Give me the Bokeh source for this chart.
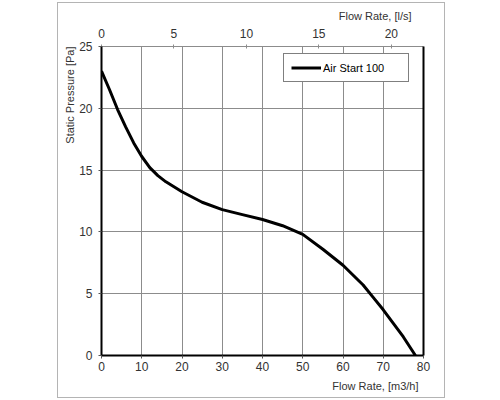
from bokeh.plotting import figure
from bokeh.models import (Range1d, LinearAxis, FixedTicker, Legend,
                          LegendItem, Title)
from bokeh.embed import file_html
from bokeh.resources import INLINE

# fan curve
flow_m3h = [0, 2, 4, 6, 8, 10, 12, 14, 16, 20, 25, 30, 35, 40, 45, 50,
            55, 60, 65, 67.5, 70, 72.5, 75, 78]
pressure_pa = [23.0, 21.5, 19.9, 18.5, 17.2, 16.1, 15.2, 14.55, 14.05, 13.25,
               12.4, 11.8, 11.4, 11.0, 10.5, 9.8, 8.6, 7.3, 5.7, 4.7, 3.7,
               2.6, 1.5, 0.0]

x_ticks = [0, 10, 20, 30, 40, 50, 60, 70, 80]
y_ticks = [0, 5, 10, 15, 20, 25]
ls_ticks = [0, 5, 10, 15, 20]
series_name = "Air Start 100"

FONT = "Liberation Sans"
TXT = "#333333"
GRID = "#8c8c8c"

p = figure(width=386, height=394, output_backend="svg", toolbar_location=None,
           x_range=Range1d(0, 80), y_range=Range1d(0, 25),
           min_border_left=43, min_border_right=21,
           min_border_top=42, min_border_bottom=42,
           styles={"margin-left": "58px", "margin-top": "3px",
                   "outline": "1px solid #b4b4b4"})
p.outline_line_color = None
p.title.visible = False

# secondary flow scale in l/s
p.extra_x_ranges = {"ls": Range1d(0, 80 / 3.6)}
top = LinearAxis(x_range_name="ls", ticker=FixedTicker(ticks=ls_ticks))
p.add_layout(top, "above")
right = LinearAxis(ticker=FixedTicker(ticks=[]))
p.add_layout(right, "right")

bottom = p.below[0]
left = p.left[0]
bottom.ticker = FixedTicker(ticks=x_ticks)
left.ticker = FixedTicker(ticks=y_ticks)

for ax in p.axis:
    ax.major_label_text_font = FONT
    ax.major_label_text_font_size = "12px"
    ax.major_label_text_color = TXT
    ax.minor_tick_line_color = None
    ax.major_tick_in = 0
    ax.major_tick_out = 3
    ax.major_tick_line_color = "#555555"
    ax.axis_line_color = "black"
    ax.axis_line_width = 2

bottom.major_label_standoff = 3
left.major_label_standoff = 6
top.axis_line_color = GRID
top.axis_line_width = 1
top.major_tick_in = 2
top.major_tick_out = 2
top.major_label_standoff = 7
top.major_tick_line_color = GRID
right.major_label_text_font_size = "0px"
right.major_tick_line_color = None

# axis names, pushed to the far end of each axis
names = [("Flow Rate, [m3/h]", "below", 5, 9),
         ("Flow Rate, [l/s]", "above", 12, 8),
         ("Static Pressure [Pa]", "left", 0, 2)]
for text, side, offset, standoff in names:
    p.add_layout(Title(text=text, align="right", offset=offset,
                       standoff=standoff, text_font=FONT,
                       text_font_size="11px", text_font_style="normal",
                       text_color=TXT), side)

p.xgrid.ticker = FixedTicker(ticks=x_ticks)
p.ygrid.ticker = FixedTicker(ticks=y_ticks)
p.grid.grid_line_color = GRID
p.grid.grid_line_width = 1

r = p.line(flow_m3h, pressure_pa, line_color="black", line_width=3)

legend = Legend(items=[LegendItem(label=series_name, renderers=[r])],
                location=(182, 273), padding=7, margin=0, spacing=0,
                glyph_width=30, glyph_height=13, label_standoff=2,
                label_width=78, label_height=13,
                label_text_font=FONT, label_text_font_size="11px",
                label_text_color="black",
                border_line_color="black", border_line_width=1,
                background_fill_alpha=1)
p.add_layout(legend)

open("out.html", "w").write(file_html(p, INLINE))
